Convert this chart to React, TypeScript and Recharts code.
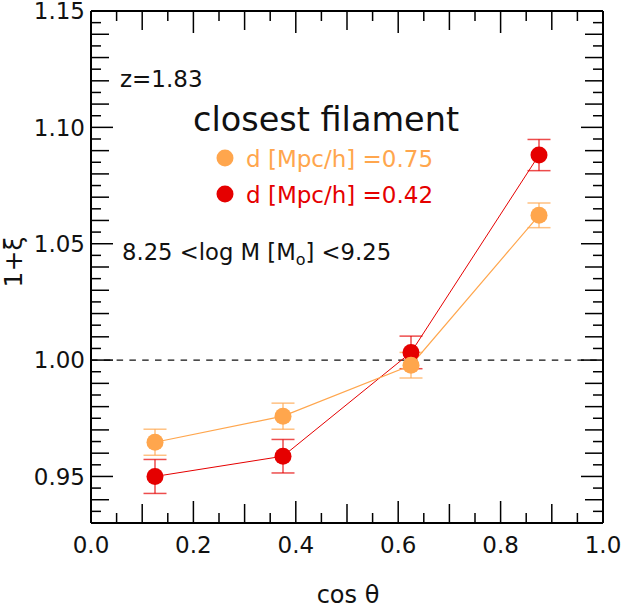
import React from 'react';
import { ComposedChart, Line, XAxis, YAxis, ErrorBar, ReferenceLine } from 'recharts';

const cosTheta = [0.125, 0.375, 0.625, 0.875];
const xiFar = [0.9647, 0.9759, 0.9978, 1.0622];
const xiFarErr = [0.0056, 0.0056, 0.0055, 0.0053];
const xiNear = [0.9500, 0.9587, 1.0033, 1.0881];
const xiNearErr = [0.0073, 0.0072, 0.0070, 0.0067];

const xTickLabels = ['0.0', '0.2', '0.4', '0.6', '0.8', '1.0'];
const yTickLabels = ['0.95', '1.00', '1.05', '1.10', '1.15'];

const ORANGE = '#ffa64d';
const RED = '#e50000';
const FONT = '"DejaVu Sans", sans-serif';

const data = cosTheta.map((x, i) => ({
  x,
  far: xiFar[i],
  farErr: xiFarErr[i],
  near: xiNear[i],
  nearErr: xiNearErr[i],
}));

const xTicks = Array.from({ length: 21 }, (_, i) => +(i * 0.05).toFixed(2));
const yTicks = Array.from({ length: 45 }, (_, i) => +(0.93 + i * 0.005).toFixed(3));

const xLabelFor = (v: number) => xTickLabels.find((l) => Math.abs(parseFloat(l) - v) < 1e-6);
const yLabelFor = (v: number) => yTickLabels.find((l) => Math.abs(parseFloat(l) - v) < 1e-6);

const xLen = (v: number) => {
  const k = Math.round(v * 100);
  return k % 20 === 0 ? 22 : k % 10 === 0 ? 19 : 10;
};
const yLen = (v: number) => {
  const k = Math.round(v * 1000);
  return k % 50 === 0 ? 22 : k % 10 === 0 ? 18 : 10;
};

const BottomTick = (props: any) => {
  const { x, y, payload } = props;
  const v = payload.value;
  const lab = xLabelFor(v);
  return (
    <g>
      <line x1={x} x2={x} y1={y} y2={y - xLen(v)} stroke="#000" strokeWidth={1.5} />
      {lab && (
        <text x={x} y={y + 30} textAnchor="middle" fontFamily={FONT} fontSize={23} fill="#111">
          {lab}
        </text>
      )}
    </g>
  );
};

const TopTick = (props: any) => {
  const { x, y, payload } = props;
  const v = payload.value;
  return <line x1={x} x2={x} y1={y} y2={y + xLen(v)} stroke="#000" strokeWidth={1.5} />;
};

const LeftTick = (props: any) => {
  const { x, y, payload } = props;
  const v = payload.value;
  const lab = yLabelFor(v);
  return (
    <g>
      <line x1={x} x2={x + yLen(v)} y1={y} y2={y} stroke="#000" strokeWidth={1.5} />
      {lab && (
        <text x={x - 6} y={y} dy="0.36em" textAnchor="end" fontFamily={FONT} fontSize={23} fill="#111">
          {lab}
        </text>
      )}
    </g>
  );
};

const RightTick = (props: any) => {
  const { x, y, payload } = props;
  const v = payload.value;
  return <line x1={x} x2={x - yLen(v)} y1={y} y2={y} stroke="#000" strokeWidth={1.5} />;
};

const makeDot = (color: string) => (props: any) => {
  const { cx, cy, index } = props;
  if (cx == null || cy == null) return <g key={index} />;
  return <circle key={index} cx={cx} cy={cy} r={8.5} fill={color} stroke="none" />;
};

const axisLine = { stroke: '#000', strokeWidth: 2 };

export default function App() {
  return (
    <div style={{ position: 'absolute', left: 0, top: 0, width: 622, height: 609, background: '#fff' }}>
      <ComposedChart
        width={622}
        height={609}
        data={data}
        margin={{ top: 10, right: 18, bottom: 85, left: 90 }}
      >
        <XAxis
          xAxisId="b"
          dataKey="x"
          type="number"
          domain={[0, 1]}
          ticks={xTicks}
          interval={0}
          height={1}
          tickSize={0}
          tickMargin={0}
          tickLine={false}
          axisLine={axisLine}
          tick={<BottomTick />}
          allowDataOverflow
        />
        <XAxis
          xAxisId="t"
          orientation="top"
          dataKey="x"
          type="number"
          domain={[0, 1]}
          ticks={xTicks}
          interval={0}
          height={1}
          tickSize={0}
          tickMargin={0}
          tickLine={false}
          axisLine={axisLine}
          tick={<TopTick />}
          allowDataOverflow
        />
        <YAxis
          yAxisId="l"
          type="number"
          domain={[0.93, 1.15]}
          ticks={yTicks}
          interval={0}
          width={1}
          tickSize={0}
          tickMargin={0}
          tickLine={false}
          axisLine={axisLine}
          tick={<LeftTick />}
          allowDataOverflow
        />
        <YAxis
          yAxisId="r"
          orientation="right"
          type="number"
          domain={[0.93, 1.15]}
          ticks={yTicks}
          interval={0}
          width={1}
          tickSize={0}
          tickMargin={0}
          tickLine={false}
          axisLine={axisLine}
          tick={<RightTick />}
          allowDataOverflow
        />
        <ReferenceLine
          xAxisId="b"
          yAxisId="l"
          y={1}
          stroke="#111"
          strokeWidth={1.2}
          strokeDasharray="6.5 6.3"
        />
        <Line
          xAxisId="b"
          yAxisId="l"
          dataKey="near"
          type="linear"
          stroke={RED}
          strokeWidth={1}
          dot={makeDot(RED)}
          activeDot={false}
          isAnimationActive={false}
        >
          <ErrorBar dataKey="nearErr" width={11.5} stroke={RED} strokeOpacity={0.7} strokeWidth={1.5} />
        </Line>
        <Line
          xAxisId="b"
          yAxisId="l"
          dataKey="far"
          type="linear"
          stroke={ORANGE}
          strokeWidth={1.2}
          dot={makeDot(ORANGE)}
          activeDot={false}
          isAnimationActive={false}
        >
          <ErrorBar dataKey="farErr" width={11.5} stroke={ORANGE} strokeOpacity={0.7} strokeWidth={1.5} />
        </Line>
      </ComposedChart>
      <svg
        width={622}
        height={609}
        style={{ position: 'absolute', left: 0, top: 0, pointerEvents: 'none' }}
      >
        <g fontFamily={FONT}>
          <text x={120} y={87} fontSize={23} fill="#111">z=1.83</text>
          <text x={193} y={131} fontSize={33.5} fill="#111">closest filament</text>
          <circle cx={225} cy={158} r={8.5} fill={ORANGE} />
          <text x={246} y={167} fontSize={23} fill={ORANGE}>d [Mpc/h] =0.75</text>
          <circle cx={225} cy={194} r={8.5} fill={RED} />
          <text x={246} y={203} fontSize={23} fill={RED}>d [Mpc/h] =0.42</text>
          <text x={122} y={260} fontSize={22.7} fill="#111">
            8.25 &lt;log M [M<tspan fontSize={16} dy={5}>o</tspan><tspan dy={-5}>] &lt;9.25</tspan>
          </text>
          <text transform="translate(22,262) rotate(-90)" textAnchor="middle" fontSize={25} fill="#111">1+ξ</text>
          <text x={348} y={603} textAnchor="middle" fontSize={24} fill="#111">cos θ</text>
        </g>
      </svg>
    </div>
  );
}
